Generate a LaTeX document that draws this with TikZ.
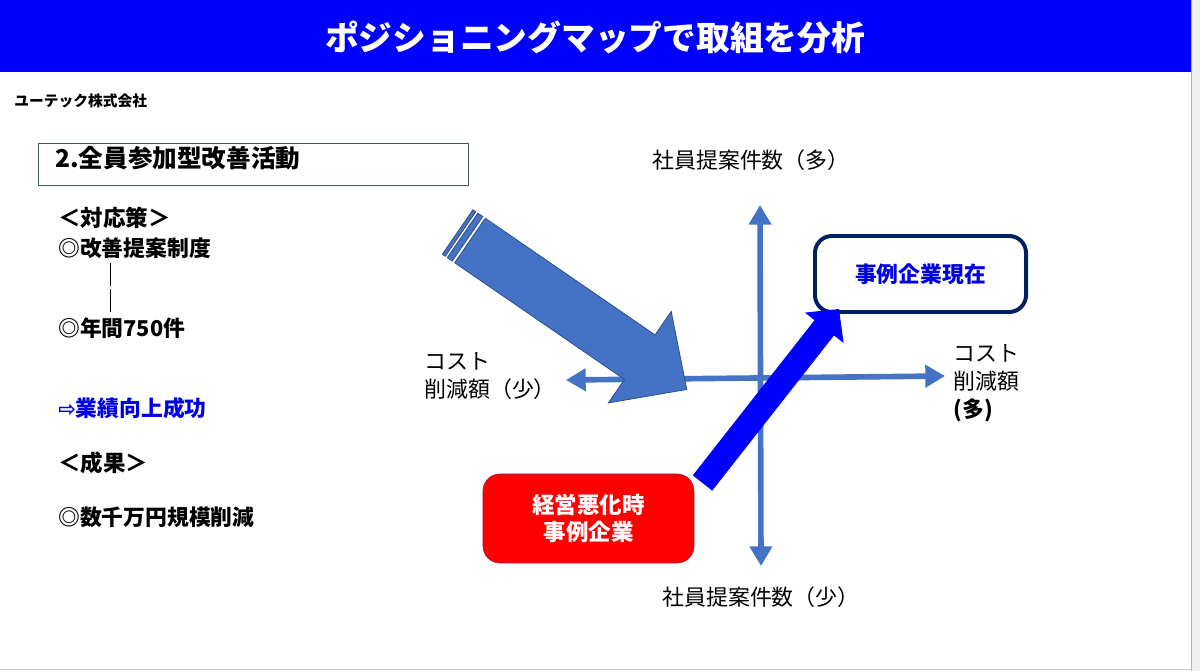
\documentclass[tikz,border=0pt]{standalone}
\usepackage{fontspec}
\setmainfont{Noto Sans CJK JP}
\newfontfamily\symfont{DejaVu Sans}
\usetikzlibrary{arrows.meta}
\definecolor{titleblue}{RGB}{0,0,255}
\definecolor{axisblue}{RGB}{68,114,196}
\definecolor{arrowedge}{RGB}{47,82,143}
\definecolor{navy}{RGB}{0,32,96}
\definecolor{slate}{RGB}{68,84,106}
\definecolor{textblue}{RGB}{0,0,230}
\definecolor{redline}{RGB}{140,40,80}
\newcommand{\fs}[2]{\fontsize{#1}{#2}\selectfont}
\tikzset{
  lbl/.style={inner sep=0pt, anchor=west},
  item/.style={lbl, font=\fs{15.5pt}{19pt}\bfseries},
  axislbl/.style={inner sep=0pt, font=\fs{15.6pt}{20pt}},
  axis/.style={axisblue, line width=4pt, {Triangle[length=14pt,width=15.5pt]}-{Triangle[length=14pt,width=15.5pt]}}
}
\begin{document}
\begin{tikzpicture}[x=0.025cm,y=-0.025cm]
\useasboundingbox (0,0) rectangle (1200,671);
\fill[titleblue] (0,0) rectangle (1191,72);
\fill[gray!12] (1192,0) rectangle (1200,671);
\draw[gray!60] (1191.5,0) -- (1191.5,671);
\draw[gray!40] (0,669.5) -- (1191.5,669.5);
\node[white, font=\fs{24pt}{28pt}\bfseries] (title) at (595,37) {ポジショニングマップで取組を分析};

\node[lbl, font=\fs{10.5pt}{12pt}\bfseries] (corp) at (14,101) {ユーテック株式会社};
\node[draw=slate, anchor=north west, inner sep=0pt, minimum width=10.75cm, minimum height=1.05cm] (hdr) at (38,143) {};
\node[lbl, font=\fs{17.5pt}{20pt}\bfseries] (hdrtxt) at (55,158) {2.全員参加型改善活動};
\node[lbl, font=\fs{16pt}{19pt}\bfseries] (taiou) at (58,218) {＜対応策＞};
\node[item] (seido) at (58,248) {◎改善提案制度};
\node[item] (nenkan) at (58,328) {◎年間750件};
\node[item, text=textblue] (gyoseki) at (58,408) {{\symfont\fs{15pt}{18pt}⇨}業績向上成功};
\node[lbl, font=\fs{16pt}{19pt}\bfseries] (seika) at (58,463) {＜成果＞};
\node[item] (sakugen) at (58,517) {◎数千万円規模削減};
\path (110,263) coordinate (v1) (110,286) coordinate (v2) (110,289) coordinate (v3) (110,312) coordinate (v4);
\draw (v1) -- (v2) (v3) -- (v4);

\coordinate (ytop) at (760,205);
\coordinate (ybot) at (761,566);
\coordinate (xlft) at (566,380);
\coordinate (xrgt) at (945,376);
\draw[axis] (xlft) -- (xrgt);
\draw[axis] (ybot) -- (ytop);
\node[axislbl] (ymore) at (751,160) {社員提案件数（多）};
\node[axislbl] (yless) at (761,597) {社員提案件数（少）};
\node[axislbl, anchor=west, align=left] (xless) at (424,376) {コスト\\削減額（少）};
\node[axislbl, anchor=west, align=left] (xmore) at (953,383) {コスト\\削減額\\\textbf{(多)}};

\begin{scope}[shift={(470,240.5)}, rotate=-34.5, fill=axisblue, draw=arrowedge, line width=0.6pt]
  \filldraw (0,-27) -- (206,-27) -- (206,-55.5) -- (263,0) -- (206,55.5) -- (206,27) -- (0,27) -- cycle;
  \filldraw (-15,-27) rectangle (-11.5,27);
  \filldraw (-9,-27) rectangle (-3,27);
\end{scope}

\node[draw=navy, line width=2.8pt, rounded corners=12pt, fill=white, minimum width=5.275cm, minimum height=1.9cm, text=textblue, font=\fs{15.5pt}{19pt}\bfseries] (now) at (920.5,274) {事例企業現在};
\node[draw=redline, fill=red, rounded corners=12pt, minimum width=5.275cm, minimum height=2.225cm, text=white, align=center, font=\fs{16pt}{19.2pt}\bfseries] (bad) at (588.5,518.5) {経営悪化時\\事例企業};

\coordinate (btail) at (702.5,483);
\coordinate (btip) at (839,309);
\draw[titleblue, line width=17.6pt, -{Triangle[length=17pt,width=34pt]}] (btail) -- (btip);
\end{tikzpicture}
\end{document}
